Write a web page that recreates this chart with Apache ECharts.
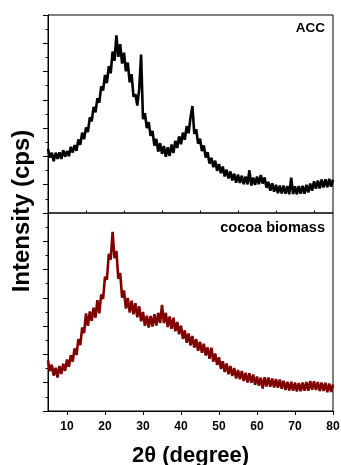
<!DOCTYPE html>
<html>
<head>
<meta charset="utf-8">
<script src="https://cdn.jsdelivr.net/npm/echarts@6/dist/echarts.min.js"></script>
<style>
  html, body { margin: 0; padding: 0; background: #fff; }
  #xrd { width: 341px; height: 465px; }
</style>
</head>
<body>
<div id="xrd"></div>
<script>
// 2-theta sampling grid, degrees (5 to 80, every 0.5)
const twoTheta = Array.from({ length: 151 }, (_, i) => 5 + i * 0.5);

// ACC intensity (arbitrary units, 0-700 per panel)
const accIntensity = [
  227, 196, 213, 183, 213, 191, 214, 191, 222, 199,
  219, 201, 234, 214, 240, 220, 260, 241, 284, 261,
  302, 286, 338, 324, 375, 356, 406, 390, 448, 433,
  488, 459, 519, 494, 571, 538, 628, 552, 597, 528,
  567, 501, 532, 462, 490, 411, 420, 380, 437, 560,
  332, 353, 300, 321, 273, 290, 238, 262, 217, 247,
  209, 237, 199, 232, 202, 242, 212, 255, 230, 271,
  243, 284, 259, 307, 282, 337, 378, 280, 296, 245,
  263, 219, 239, 196, 215, 175, 195, 162, 185, 149,
  173, 141, 164, 129, 153, 122, 147, 115, 139, 107,
  136, 106, 132, 102, 129, 101, 151, 97, 125, 99,
  129, 102, 134, 104, 126, 89, 110, 79, 105, 75,
  100, 70, 97, 69, 97, 68, 95, 66, 125, 67,
  94, 66, 95, 68, 96, 68, 100, 73, 104, 79,
  112, 86, 115, 87, 118, 90, 119, 91, 121, 93,
  118
];

// cocoa biomass intensity
const cocoaIntensity = [
  179, 141, 164, 125, 153, 118, 159, 131, 167, 142,
  182, 156, 197, 175, 221, 198, 254, 233, 296, 275,
  345, 301, 352, 319, 365, 330, 392, 345, 412, 396,
  475, 464, 556, 535, 633, 540, 566, 467, 488, 401,
  426, 362, 400, 348, 390, 342, 381, 331, 370, 317,
  350, 301, 337, 295, 336, 299, 342, 302, 347, 311,
  375, 311, 347, 297, 334, 291, 330, 282, 315, 271,
  302, 255, 285, 241, 274, 232, 265, 224, 254, 213,
  245, 206, 238, 196, 225, 185, 224, 174, 203, 163,
  190, 149, 176, 138, 168, 130, 159, 124, 152, 115,
  145, 112, 141, 106, 135, 101, 133, 100, 129, 93,
  122, 89, 118, 79, 119, 87, 118, 86, 115, 83,
  113, 82, 111, 79, 107, 74, 103, 73, 103, 72,
  101, 69, 99, 70, 101, 72, 102, 72, 106, 75,
  105, 74, 102, 71, 101, 71, 100, 66, 97, 67,
  94
];

// x axis tick positions
const majorTicks = [10, 20, 30, 40, 50, 60, 70, 80];
const minorTicks = [5, 15, 25, 35, 45, 55, 65, 75];

const FONT = '"Liberation Sans", Arial, Helvetica, sans-serif';

const toPairs = (ys) => twoTheta.map((x, i) => [x, ys[i]]);

const chart = echarts.init(document.getElementById('xrd'), null, { renderer: 'canvas' });

const yAxisBase = (gridIndex) => ({
  gridIndex: gridIndex,
  type: 'value',
  min: 0,
  max: 700,
  interval: 100,
  axisLine: { show: true, lineStyle: { color: '#000', width: 1 } },
  axisTick: { show: true, inside: false, length: 5, lineStyle: { color: '#000', width: 1 } },
  minorTick: { show: true, splitNumber: 2, length: 2.5, lineStyle: { color: '#000', width: 1 } },
  axisLabel: { show: false },
  splitLine: { show: false }
});

const option = {
  animation: false,
  backgroundColor: '#fff',
  grid: [
    {
      left: 48, right: 8, top: 15, height: 198, outerBoundsMode: 'none',
      show: true, borderColor: '#000', borderWidth: 1, backgroundColor: 'transparent'
    },
    {
      left: 48, right: 8, top: 213, height: 198, outerBoundsMode: 'none',
      show: true, borderColor: '#000', borderWidth: 1, backgroundColor: 'transparent'
    }
  ],
  xAxis: [
    {
      gridIndex: 0, type: 'value', min: 5, max: 80,
      axisLine: { show: false }, axisTick: { show: false },
      axisLabel: { show: false }, splitLine: { show: false }
    },
    {
      gridIndex: 1, type: 'value', min: 5, max: 80, interval: 5,
      axisLine: { show: true, lineStyle: { color: '#000', width: 1 } },
      axisTick: { show: true, customValues: majorTicks, length: 4, lineStyle: { color: '#000', width: 1 } },
      axisLabel: {
        show: true, customValues: majorTicks, margin: 10,
        color: '#000', fontFamily: FONT, fontWeight: 'bold', fontSize: 12
      },
      splitLine: { show: false },
      name: '2θ (degree)',
      nameLocation: 'middle',
      nameGap: 34,
      nameTextStyle: { color: '#000', fontFamily: FONT, fontWeight: 'bold', fontSize: 22 }
    },
    {
      gridIndex: 1, type: 'value', min: 5, max: 80, interval: 5,
      axisLine: { show: false },
      axisTick: { show: true, customValues: minorTicks, length: 2.5, lineStyle: { color: '#000', width: 1 } },
      axisLabel: { show: false },
      splitLine: { show: false }
    }
  ],
  yAxis: [yAxisBase(0), yAxisBase(1)],
  graphic: [
    {
      type: 'text', x: 22, y: 211, rotation: Math.PI / 2,
      style: {
        text: 'Intensity (cps)', fill: '#000',
        font: 'bold 24px ' + FONT, textAlign: 'center', textVerticalAlign: 'middle'
      }
    },
    {
      type: 'text', x: 325, y: 28,
      style: {
        text: 'ACC', fill: '#000',
        font: 'bold 13.5px ' + FONT, textAlign: 'right', textVerticalAlign: 'middle'
      }
    },
    {
      type: 'text', x: 325, y: 228,
      style: {
        text: 'cocoa biomass', fill: '#000',
        font: 'bold 14.5px ' + FONT, textAlign: 'right', textVerticalAlign: 'middle'
      }
    }
  ],
  series: [
    {
      name: 'ACC', type: 'line', xAxisIndex: 0, yAxisIndex: 0,
      data: toPairs(accIntensity),
      showSymbol: false, symbol: 'none', sampling: null,
      lineStyle: { color: '#000', width: 2.6, join: 'bevel' },
      itemStyle: { color: '#000' },
      clip: true
    },
    {
      name: 'cocoa biomass', type: 'line', xAxisIndex: 1, yAxisIndex: 1,
      data: toPairs(cocoaIntensity),
      showSymbol: false, symbol: 'none', sampling: null,
      lineStyle: { color: '#800000', width: 2.6, join: 'bevel' },
      itemStyle: { color: '#800000' },
      clip: true
    }
  ]
};

option && chart.setOption(option);
</script>
</body>
</html>
